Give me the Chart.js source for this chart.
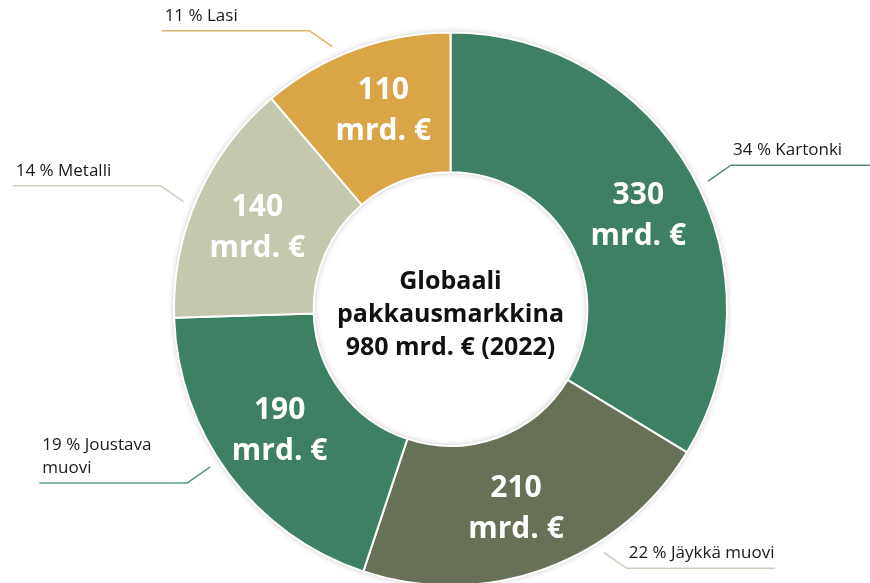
<!DOCTYPE html>
<html lang="fi">
<head>
<meta charset="UTF-8">
<title>Globaali pakkausmarkkina</title>
<script src="https://cdn.jsdelivr.net/npm/chart.js@4/dist/chart.umd.min.js"></script>
<style>
  html, body { margin: 0; padding: 0; background: #fff; overflow: hidden; }
  #wrap { width: 870px; height: 590px; position: relative; }
</style>
</head>
<body>
<div id="wrap"><canvas id="chart"></canvas></div>
<script>
// data
const categories = ['Kartonki', 'Jäykkä muovi', 'Joustava muovi', 'Metalli', 'Lasi'];
const values = [330, 210, 190, 140, 110];
const shares = [34, 22, 19, 14, 11];
const outerNames = [['Kartonki'], ['Jäykkä muovi'], ['Joustava', 'muovi'], ['Metalli'], ['Lasi']];
const unit = 'mrd. €';
const centerLines = ['Globaali', 'pakkausmarkkina', '980 mrd. € (2022)'];

// styles
const colors = ['#3e8063', '#677157', '#3e8063', '#c5c8ae', '#d9a547'];
const leaderColors = ['#4f8b70', '#cdcfbd', '#5c9a80', '#cfd1bd', '#dcb46a'];
const leaderShift = [3, -12, 3.4, -2, -4]; // degrees away from slice middle
const valueShift = [3, 2, 1.3, -1, 1.5];
const FONT = '"Open Sans", "Noto Sans", sans-serif';
const rad = d => d * Math.PI / 180;

const labelPlugin = {
    id: 'labels',
    beforeDatasetsDraw(chart) {
        // soft shadow around the ring
        const arc = chart.getDatasetMeta(0).data[0];
        const {x, y, innerRadius, outerRadius} = arc.getProps(['x', 'y', 'innerRadius', 'outerRadius'], true);
        const ctx = chart.ctx;
        ctx.save();
        ctx.shadowColor = 'rgba(0,0,0,0.35)';
        ctx.shadowBlur = 7;
        ctx.fillStyle = '#ffffff';
        ctx.beginPath();
        ctx.arc(x, y, outerRadius - 1, 0, Math.PI * 2);
        ctx.arc(x, y, innerRadius + 1, 0, Math.PI * 2, true);
        ctx.fill();
        ctx.restore();
    },
    afterDatasetsDraw(chart) {
        const ctx = chart.ctx;
        const meta = chart.getDatasetMeta(0);
        ctx.save();
        meta.data.forEach((arc, i) => {
            const p = arc.getProps(['x', 'y', 'startAngle', 'endAngle', 'innerRadius', 'outerRadius'], true);
            const mid = (p.startAngle + p.endAngle) / 2;
            const r = (p.innerRadius + p.outerRadius) / 2 + 3;
            const va = mid + rad(valueShift[i]);
            const lx = p.x + Math.cos(va) * r;
            const ly = p.y + Math.sin(va) * r;

            // value inside slice
            ctx.fillStyle = '#ffffff';
            ctx.textAlign = 'center';
            ctx.textBaseline = 'middle';
            ctx.font = 'bold 30px ' + FONT;
            ctx.fillText(String(values[i]), lx, ly - 20);
            ctx.fillText(unit, lx, ly + 21);

            // leader line + outside label
            const a = mid + rad(leaderShift[i]);
            const tr = p.outerRadius + 11;
            const tx = p.x + Math.cos(a) * tr;
            const ty = p.y + Math.sin(a) * tr;
            const side = Math.cos(a) >= 0 ? 1 : -1;
            const vs = Math.sin(a) >= 0 ? 1 : -1;
            const ex = tx + side * 23;
            const ey = ty + vs * 16;
            const endX = ex + side * 148;
            ctx.strokeStyle = leaderColors[i];
            ctx.lineWidth = 1.5;
            ctx.beginPath();
            ctx.moveTo(tx, ty);
            ctx.lineTo(ex, ey);
            ctx.lineTo(endX, ey);
            ctx.stroke();

            const lines = outerNames[i].slice();
            lines[0] = shares[i] + ' % ' + lines[0];
            ctx.fillStyle = '#1a1a1a';
            ctx.textAlign = 'left';
            ctx.font = '17px ' + FONT;
            const textX = side < 0 ? endX + 3 : ex + 2;
            lines.forEach((t, k) => {
                ctx.fillText(t, textX, ey - 15 - (lines.length - 1 - k) * 23);
            });
        });

        // centre caption
        const c = meta.data[0];
        ctx.fillStyle = '#111111';
        ctx.textAlign = 'center';
        ctx.font = 'bold 25px ' + FONT;
        centerLines.forEach((t, k) => {
            ctx.fillText(t, c.x, c.y - 27 + k * 33);
        });
        ctx.restore();
    }
};

new Chart(document.getElementById('chart'), {
    type: 'doughnut',
    data: {
        labels: categories,
        datasets: [{
            data: values,
            backgroundColor: colors,
            borderColor: '#ffffff',
            borderWidth: 2
        }]
    },
    options: {
        responsive: true,
        maintainAspectRatio: false,
        animation: false,
        cutout: '49.5%',
        rotation: 0,
        layout: { padding: { left: 173, right: 142, top: 31, bottom: 3 } },
        plugins: {
            legend: { display: false },
            tooltip: { enabled: false }
        }
    },
    plugins: [labelPlugin]
});
</script>
</body>
</html>
